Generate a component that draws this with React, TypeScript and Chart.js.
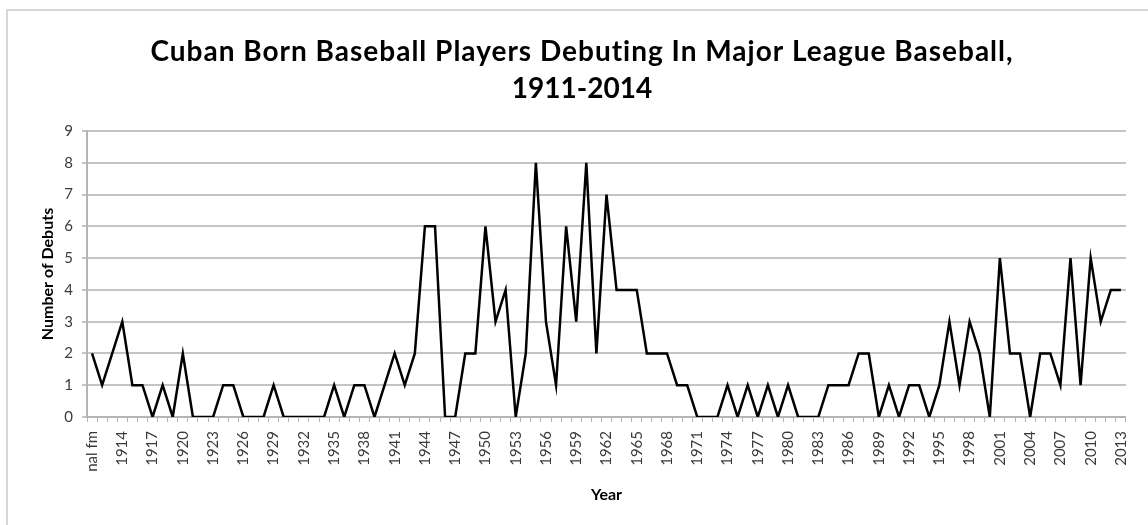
import React, { useEffect, useRef } from "react";
import { Chart, registerables } from "chart.js";

Chart.register(...registerables);

const firstLabel = "nal fm";
const years: number[] = [
  1912, 1913, 1914, 1915, 1916, 1917, 1918, 1919, 1920,
  1921, 1922, 1923, 1924, 1925, 1926, 1927, 1928, 1929, 1930,
  1931, 1932, 1933, 1934, 1935, 1936, 1937, 1938, 1939, 1940,
  1941, 1942, 1943, 1944, 1945, 1946, 1947, 1948, 1949, 1950,
  1951, 1952, 1953, 1954, 1955, 1956, 1957, 1958, 1959, 1960,
  1961, 1962, 1963, 1964, 1965, 1966, 1967, 1968, 1969, 1970,
  1971, 1972, 1973, 1974, 1975, 1976, 1977, 1978, 1979, 1980,
  1981, 1982, 1983, 1984, 1985, 1986, 1987, 1988, 1989, 1990,
  1991, 1992, 1993, 1994, 1995, 1996, 1997, 1998, 1999, 2000,
  2001, 2002, 2003, 2004, 2005, 2006, 2007, 2008, 2009, 2010,
  2011, 2012, 2013,
];
const categories: string[] = [firstLabel, ...years.map(String)];

// debuts per year, 1911 .. 2013
const debuts: number[] = [
  2, 1, 2, 3, 1, 1, 0, 1, 0, 2, // 1911-1920
  0, 0, 0, 1, 1, 0, 0, 0, 1, 0, // 1921-1930
  0, 0, 0, 0, 1, 0, 1, 1, 0, 1, // 1931-1940
  2, 1, 2, 6, 6, 0, 0, 2, 2, 6, // 1941-1950
  3, 4, 0, 2, 8, 3, 1, 6, 3, 8, // 1951-1960
  2, 7, 4, 4, 4, 2, 2, 2, 1, 1, // 1961-1970
  0, 0, 0, 1, 0, 1, 0, 1, 0, 1, // 1971-1980
  0, 0, 0, 1, 1, 1, 2, 2, 0, 1, // 1981-1990
  0, 1, 1, 0, 1, 3, 1, 3, 2, 0, // 1991-2000
  5, 2, 2, 0, 2, 2, 1, 5, 1, 5, // 2001-2010
  3, 4, 4, // 2011-2013
];

const titleLines: string[] = [
  "Cuban Born Baseball Players Debuting In Major League Baseball,",
  "1911-2014",
];
const yTitle = "Number of Debuts";
const xTitle = "Year";
const labelEvery = 3;

const W = 1141;
const H = 515;

const titlePlugin = {
  id: "customTitle",
  afterDraw(chart: Chart) {
    const ctx = chart.ctx as any;
    ctx.save();
    ctx.fillStyle = "#000000";
    ctx.font = "bold 28px Lato";
    ctx.textAlign = "center";
    ctx.textBaseline = "alphabetic";
    ctx.letterSpacing = "1px";
    ctx.fillText(titleLines[0], 575, 51);
    ctx.letterSpacing = "0px";
    ctx.fillText(titleLines[1], 575, 88);
    ctx.restore();
  },
};

export default function App() {
  const ref = useRef<HTMLCanvasElement | null>(null);
  useEffect(() => {
    if (!ref.current) return;
    const chart = new Chart(ref.current, {
      type: "line",
      data: {
        labels: categories,
        datasets: [
          {
            label: yTitle,
            data: debuts,
            borderColor: "#000000",
            borderWidth: 2.5,
            pointRadius: 0,
            tension: 0,
            fill: false,
          },
        ],
      },
      options: {
        animation: false,
        responsive: false,
        layout: { padding: { top: 121, right: 15, left: 0, bottom: 0 } },
        plugins: {
          legend: { display: false },
          title: { display: false },
          tooltip: { enabled: false },
        },
        scales: {
          x: {
            type: "category",
            offset: true,
            afterFit: (s: any) => {
              s.height = 108;
            },
            grid: {
              display: true,
              offset: true,
              drawOnChartArea: false,
              drawTicks: true,
              tickLength: 5,
              color: "#b5b5b5",
              lineWidth: 1,
            },
            border: { display: true, color: "#b5b5b5", width: 2 },
            ticks: {
              autoSkip: false,
              maxRotation: 90,
              minRotation: 90,
              padding: 9,
              color: "#3a3a3a",
              font: { family: "Lato", size: 15 },
              callback: (_v: any, i: number) =>
                i % labelEvery === 0 ? categories[i] : "",
            },
            title: {
              display: true,
              text: xTitle,
              color: "#000000",
              font: { family: "Lato", size: 16, weight: "bold" },
              padding: { top: 0, bottom: 21 },
            },
          },
          y: {
            min: 0,
            max: 9,
            afterFit: (s: any) => {
              s.width = 80;
            },
            grid: {
              color: "#c4c4c4",
              lineWidth: 2,
              drawTicks: true,
              tickLength: 5,
            },
            border: { display: true, color: "#b5b5b5", width: 2 },
            ticks: {
              stepSize: 1,
              padding: 9,
              color: "#3a3a3a",
              font: { family: "Lato", size: 15 },
            },
            title: {
              display: true,
              text: yTitle,
              color: "#000000",
              font: { family: "Lato", size: 16, weight: "bold" },
              padding: { top: 31, bottom: 0 },
            },
          },
        },
      },
      plugins: [titlePlugin],
    });
    return () => chart.destroy();
  }, []);

  return (
    <div
      style={{
        position: "fixed",
        left: 0,
        top: 0,
        width: 1148,
        height: 525,
        overflow: "hidden",
        background: "#ffffff",
      }}
    >
      <div
        style={{
          position: "absolute",
          left: 6,
          top: 9,
          width: 1200,
          height: 600,
          border: "2px solid #d6d6d6",
        }}
      />
      <canvas
        ref={ref}
        width={W}
        height={H}
        style={{ position: "absolute", left: 7, top: 10, width: W, height: H }}
      />
    </div>
  );
}
